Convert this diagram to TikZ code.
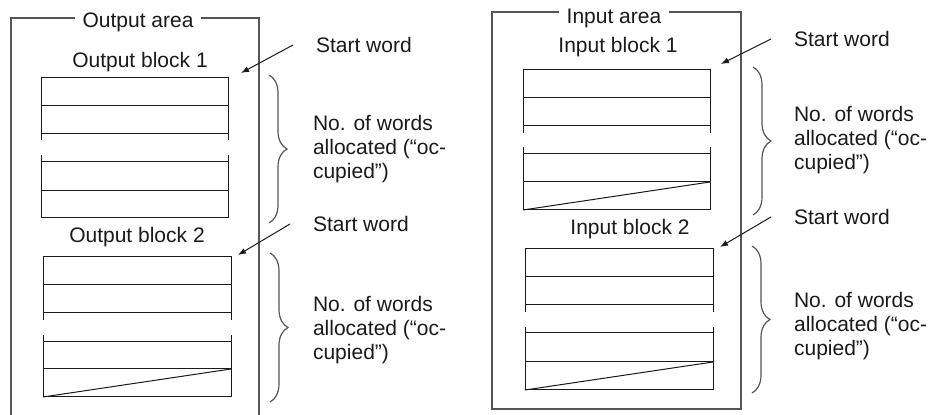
\documentclass[tikz,border=0pt]{standalone}
\usepackage{fontspec}
\setmainfont{Liberation Sans}
\usetikzlibrary{arrows.meta,decorations.pathreplacing}
\definecolor{Ink}{HTML}{1A1A1A}
\definecolor{FrameGray}{HTML}{555555}
\tikzset{areaframe/.style={draw=FrameGray,line width=0.7pt},wordline/.style={draw=Ink,line width=0.5pt},pointer/.style={draw=Ink,line width=0.5pt,-{Latex[length=4pt,width=3pt]}},wordbrace/.style={draw=FrameGray,line width=0.6pt,decorate,decoration={brace,amplitude=9pt}},areatitle/.style={fill=white,inner xsep=4pt,inner ysep=1pt},note/.style={anchor=west,align=left}}
\begin{document}
\begin{tikzpicture}[x=0.5pt,y=-0.5pt,font=\fontsize{10.5}{12}\selectfont,text=Ink]
\useasboundingbox (0,0) rectangle (932,415);
% output area (left)
\draw[areaframe] (11,415)--(11,18)--(259,18)--(259,415);
\node[areatitle] (outarea) at (138,22) {Output area};
\node (outblk1) at (140,62) {Output block 1};\node (outblk2) at (137,237) {Output block 2};
\draw[wordline] (41,140)--(41,78)--(228,78)--(228,140);\draw[wordline] (41,106)--(228,106) (41,134)--(228,134);
\draw[wordline] (41,155)--(41,218)--(228,218)--(228,155);\draw[wordline] (41,162)--(228,162) (41,191)--(228,191);
\draw[wordline] (43,320)--(43,257)--(231,257)--(231,320);\draw[wordline] (43,285)--(231,285) (43,313)--(231,313);
\draw[wordline] (43,335)--(43,397)--(231,397)--(231,335);\draw[wordline] (43,342)--(231,342) (43,369)--(231,369);\draw[wordline] (43,397)--(231,369);
\node[note] (outstart1) at (309,45) {Start word};\node[note] (outstart2) at (306,224) {Start word};
\coordinate (outtip1) at (241,73);\coordinate (outtip2) at (238,255);
\draw[pointer] ([xshift=-8pt]outstart1.west)--(outtip1);\draw[pointer] ([xshift=-8pt]outstart2.west)--(outtip2);
\draw[wordbrace] (269,75)--(269,223);\draw[wordbrace] (270,253)--(270,402);
\node[note] (outcount1) at (306,149) {No. of words\\allocated (“oc-\\cupied”)};
\node[note] (outcount2) at (306,330) {No. of words\\allocated (“oc-\\cupied”)};
% input area (right)
\draw[areaframe] (492,12) rectangle (741,409);
\node[areatitle] (inarea) at (614,18) {Input area};
\node (inblk1) at (618,47) {Input block 1};\node (inblk2) at (630,229) {Input block 2};
\draw[wordline] (523,133)--(523,70)--(710,70)--(710,133);\draw[wordline] (523,98)--(710,98) (523,126)--(710,126);
\draw[wordline] (523,147)--(523,210)--(710,210)--(710,147);\draw[wordline] (523,154)--(710,154) (523,182)--(710,182);\draw[wordline] (523,210)--(710,182);
\draw[wordline] (525,312)--(525,249)--(713,249)--(713,312);\draw[wordline] (525,277)--(713,277) (525,305)--(713,305);
\draw[wordline] (525,327)--(525,390)--(713,390)--(713,327);\draw[wordline] (525,333)--(713,333) (525,362)--(713,362);\draw[wordline] (525,390)--(713,362);
\node[note] (instart1) at (787,39) {Start word};\node[note] (instart2) at (787,217) {Start word};
\coordinate (intip1) at (721,64);\coordinate (intip2) at (720,247);
\draw[pointer] ([xshift=-8pt]instart1.west)--(intip1);\draw[pointer] ([xshift=-8pt]instart2.west)--(intip2);
\draw[wordbrace] (753,67)--(753,215);\draw[wordbrace] (752,246)--(752,393);
\node[note] (incount1) at (787,140) {No. of words\\allocated (“oc-\\cupied”)};
\node[note] (incount2) at (787,326) {No. of words\\allocated (“oc-\\cupied”)};
\end{tikzpicture}
\end{document}
